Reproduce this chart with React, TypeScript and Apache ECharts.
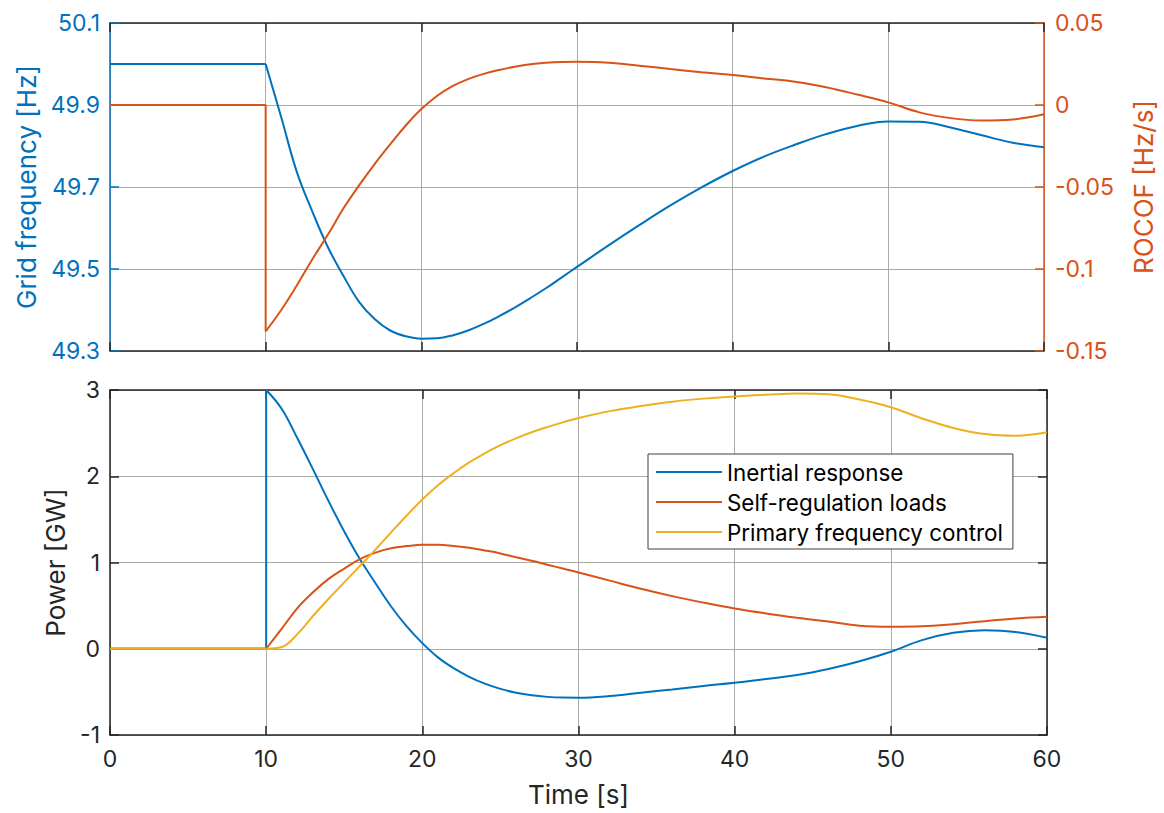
import React, { useEffect, useRef } from "react";
import * as echarts from "echarts";

// Simulation time [s] after the disturbance at 10 s.
const TIME = [
  10, 11, 12, 13, 14, 15, 16, 17, 18, 19, 20, 21, 22, 23, 24, 25, 26, 27, 28, 29, 30,
  32, 34, 36, 38, 40, 42, 44, 46, 48, 50, 52, 54, 56, 58, 60,
];
const T_START = 0;
const T_STEP = 10;

// Grid frequency [Hz]
const FREQUENCY_BEFORE = 50.0;
const FREQUENCY = [
  50.0, 49.87, 49.737, 49.64, 49.553, 49.483, 49.42, 49.378, 49.35, 49.336, 49.33,
  49.331, 49.338, 49.35, 49.366, 49.385, 49.406, 49.429, 49.453, 49.479, 49.505,
  49.557, 49.607, 49.655, 49.699, 49.739, 49.774, 49.803, 49.829, 49.849, 49.86, 49.859, 49.845,
  49.826, 49.808, 49.797,
];

// Rate of change of frequency [Hz/s]
const ROCOF_BEFORE = 0;
const ROCOF = [
  -0.138, -0.125, -0.11, -0.094, -0.079, -0.063, -0.049, -0.036, -0.024, -0.0125, -0.0025,
  0.0055, 0.0115, 0.0158, 0.019, 0.0214, 0.0233, 0.0248, 0.0257, 0.0262, 0.0263,
  0.0258, 0.024, 0.0219, 0.02, 0.0183, 0.0162, 0.0142, 0.0108, 0.0064, 0.0016, -0.0045, -0.008,
  -0.0094, -0.0088, -0.0057,
];

// Power contributions [GW]
const INERTIAL_BEFORE = 0;
const INERTIAL = [
  3.0, 2.78, 2.44, 2.08, 1.71, 1.36, 1.04, 0.76, 0.49, 0.26, 0.065,
  -0.1, -0.225, -0.325, -0.405, -0.465, -0.51, -0.54, -0.558, -0.566, -0.567,
  -0.548, -0.51, -0.472, -0.432, -0.394, -0.35, -0.305, -0.235, -0.145, -0.035, 0.1, 0.185,
  0.215, 0.195, 0.127,
];

const SELF_REGULATION_BEFORE = 0;
const SELF_REGULATION = [
  0, 0.233, 0.472, 0.655, 0.81, 0.93, 1.04, 1.115, 1.165, 1.19, 1.205,
  1.205, 1.19, 1.17, 1.14, 1.105, 1.06, 1.02, 0.975, 0.93, 0.885,
  0.79, 0.695, 0.61, 0.535, 0.467, 0.41, 0.36, 0.315, 0.268, 0.255, 0.26, 0.285,
  0.32, 0.35, 0.37,
];

const PRIMARY_CONTROL_BEFORE = 0;
const PRIMARY_CONTROL = [
  0, 0.02, 0.17, 0.38, 0.58, 0.77, 0.96, 1.15, 1.35, 1.545, 1.73,
  1.895, 2.035, 2.16, 2.265, 2.36, 2.44, 2.51, 2.57, 2.625, 2.675,
  2.755, 2.815, 2.865, 2.9, 2.925, 2.945, 2.96, 2.95, 2.89, 2.8, 2.67, 2.56,
  2.49, 2.47, 2.51,
];

const LEGEND_NAMES = ["Inertial response", "Self-regulation loads", "Primary frequency control"];

const BLUE = "#0072BD";
const ORANGE = "#D95319";
const YELLOW = "#EDB120";
const INK = "#262626";
const GRID_COLOR = "#ababab";
const FONT = 'Inter, "Liberation Sans", Arial, sans-serif';

// A trace: steady value until the step, the jump at the step, then the smooth response.
function trace(
  name: string,
  before: number,
  after: number[],
  color: string,
  xAxisIndex: number,
  yAxisIndex: number,
  z: number,
) {
  const common = {
    name,
    type: "line",
    xAxisIndex,
    yAxisIndex,
    symbol: "none",
    lineStyle: { color, width: 2 },
    itemStyle: { color },
    z,
  };
  return [
    {
      ...common,
      data: [
        [T_START, before],
        [T_STEP, before],
        [TIME[0], after[0]],
      ],
    },
    {
      ...common,
      smooth: 0.4,
      data: TIME.map((t, i) => [t, after[i]]),
    },
  ];
}

function timeAxis(gridIndex: number, position: "top" | "bottom", labelled: boolean, split: boolean) {
  return {
    type: "value",
    gridIndex,
    position,
    min: 0,
    max: 60,
    interval: 10,
    axisLine: { show: true, onZero: false, lineStyle: { color: INK, width: 1.5 } },
    axisTick: { show: true, inside: true, length: 9, lineStyle: { color: INK, width: 1.5 } },
    axisLabel: { show: labelled, color: INK, fontSize: 23, fontFamily: FONT, margin: 12 },
    splitLine: { show: split, lineStyle: { color: GRID_COLOR, width: 1 } },
    ...(labelled
      ? {
          name: "Time [s]",
          nameLocation: "middle",
          nameGap: 46,
          nameTextStyle: { color: INK, fontSize: 26, fontFamily: FONT },
        }
      : {}),
  };
}

function valueAxis(
  gridIndex: number,
  position: "left" | "right",
  min: number,
  max: number,
  interval: number,
  color: string,
  labelled: boolean,
  split: boolean,
  name?: string,
  nameGap?: number,
  formatter?: (v: number) => string,
) {
  return {
    type: "value",
    gridIndex,
    position,
    min,
    max,
    interval,
    axisLine: { show: true, onZero: false, lineStyle: { color, width: 1.5 } },
    axisTick: { show: true, inside: true, length: 9, lineStyle: { color, width: 1.5 } },
    axisLabel: {
      show: labelled,
      color,
      fontSize: 23,
      fontFamily: FONT,
      margin: position === "left" ? 10 : 11,
      ...(formatter ? { formatter } : {}),
    },
    splitLine: { show: split, lineStyle: { color: GRID_COLOR, width: 1 } },
    ...(name
      ? {
          name,
          nameLocation: "middle",
          nameRotate: 90,
          nameGap,
          nameTextStyle: { color, fontSize: 26, fontFamily: FONT },
        }
      : {}),
  };
}

export default function App() {
  const ref = useRef<HTMLDivElement>(null);

  useEffect(() => {
    if (!ref.current) return;
    const chart = echarts.init(ref.current, null, { renderer: "svg" });

    chart.setOption({
      animation: false,
      backgroundColor: "#ffffff",
      grid: [
        { left: 110, top: 23, width: 937, height: 328, containLabel: false },
        { left: 110, top: 390, width: 937, height: 345, containLabel: false },
      ],
      xAxis: [
        timeAxis(0, "bottom", false, true),
        timeAxis(0, "top", false, false),
        timeAxis(1, "bottom", true, true),
        timeAxis(1, "top", false, false),
      ],
      yAxis: [
        valueAxis(0, "left", 49.3, 50.1, 0.2, BLUE, true, true, "Grid frequency [Hz]", 70, (v) => v.toFixed(1)),
        valueAxis(0, "right", -0.15, 0.05, 0.05, ORANGE, true, false, "ROCOF [Hz/s]", 86, (v) =>
          String(Math.round(v * 100) / 100),
        ),
        valueAxis(1, "left", -1, 3, 1, INK, true, true, "Power [GW]", 42),
        valueAxis(1, "right", -1, 3, 1, INK, false, false),
      ],
      legend: {
        data: LEGEND_NAMES,
        orient: "vertical",
        left: 648,
        top: 454,
        padding: [7, 10, 6, 8],
        itemGap: 8,
        itemWidth: 66,
        itemHeight: 2,
        icon: "rect",
        selectedMode: false,
        backgroundColor: "#ffffff",
        borderColor: "#404040",
        borderWidth: 1,
        borderRadius: 0,
        textStyle: { color: "#000000", fontSize: 22.4, fontFamily: FONT, lineHeight: 22 },
      },
      series: [
        ...trace("Grid frequency", FREQUENCY_BEFORE, FREQUENCY, BLUE, 0, 0, 3),
        ...trace("ROCOF", ROCOF_BEFORE, ROCOF, ORANGE, 0, 1, 4),
        ...trace(LEGEND_NAMES[0], INERTIAL_BEFORE, INERTIAL, BLUE, 2, 2, 3),
        ...trace(LEGEND_NAMES[1], SELF_REGULATION_BEFORE, SELF_REGULATION, ORANGE, 2, 2, 4),
        ...trace(LEGEND_NAMES[2], PRIMARY_CONTROL_BEFORE, PRIMARY_CONTROL, YELLOW, 2, 2, 5),
      ],
    });

    return () => chart.dispose();
  }, []);

  return (
    <div
      ref={ref}
      style={{ position: "fixed", left: 0, top: 0, width: 1164, height: 813, background: "#ffffff" }}
    />
  );
}
